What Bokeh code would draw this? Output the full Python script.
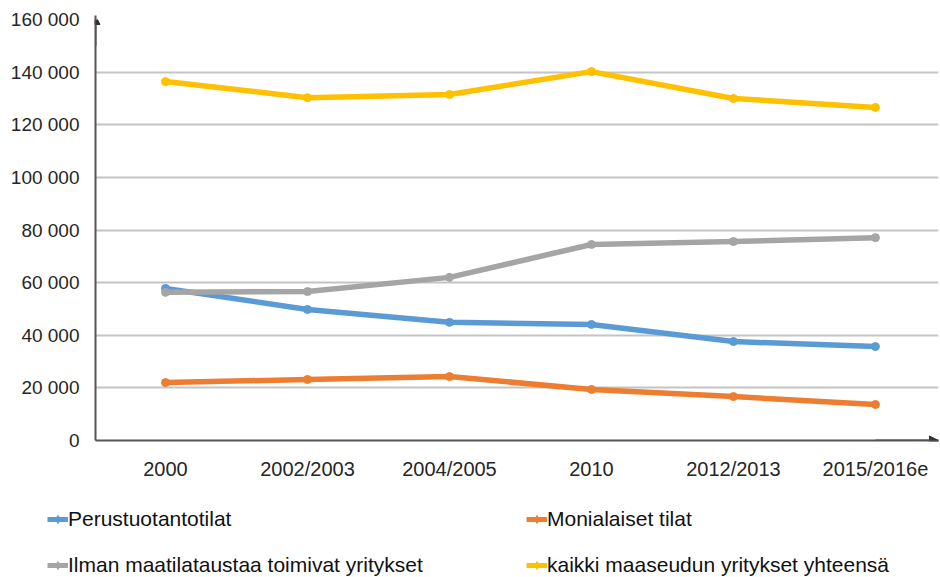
from bokeh.plotting import figure
from bokeh.layouts import column, row
from bokeh.models import (Range1d, FixedTicker, Legend, LegendItem, Arrow,
                          NormalHead)
from bokeh.embed import file_html
from bokeh.resources import INLINE

categories = ["2000", "2002/2003", "2004/2005", "2010", "2012/2013", "2015/2016e"]
perustuotanto = [57800, 49800, 44900, 44100, 37600, 35700]
monialaiset = [22000, 23200, 24300, 19400, 16700, 13700]
ilman_maatilataustaa = [56300, 56600, 62000, 74500, 75600, 77100]
kaikki = [136400, 130300, 131500, 140200, 130000, 126600]

y_ticks = [0, 20000, 40000, 60000, 80000, 100000, 120000, 140000, 160000]
y_tick_labels = ["0", "20 000", "40 000", "60 000", "80 000", "100 000",
                 "120 000", "140 000", "160 000"]

series = [
    ("Perustuotantotilat", perustuotanto, "#5B9BD5"),
    ("Monialaiset tilat", monialaiset, "#ED7D31"),
    ("Ilman maatilataustaa toimivat yritykset", ilman_maatilataustaa, "#A5A5A5"),
    ("kaikki maaseudun yritykset yhteensä", kaikki, "#FFC000"),
]

FONT = "Liberation Sans"
TXT = "#262626"

xs = list(range(len(categories)))

p = figure(width=940, height=500, output_backend="svg", toolbar_location=None,
           x_range=Range1d(-0.493, 5.444), y_range=Range1d(0, 160000),
           min_border_left=95, min_border_right=2, min_border_top=19,
           min_border_bottom=60)
p.outline_line_color = None

p.yaxis.ticker = FixedTicker(ticks=y_ticks)
p.yaxis.major_label_overrides = {t: l for t, l in zip(y_ticks, y_tick_labels)}
p.xaxis.ticker = FixedTicker(ticks=xs)
p.xaxis.major_label_overrides = {i: c for i, c in zip(xs, categories)}
for ax in (p.xaxis, p.yaxis):
    ax.major_tick_out = 0
    ax.major_tick_in = 0
    ax.minor_tick_out = 0
    ax.minor_tick_in = 0
    ax.axis_line_color = "#555555"
    ax.axis_line_width = 2
    ax.major_label_text_font = FONT
    ax.major_label_text_color = TXT
p.yaxis.major_label_text_font_size = "19px"
p.xaxis.major_label_text_font_size = "20px"
p.yaxis.major_label_standoff = 16
p.xaxis.major_label_standoff = 17

p.xgrid.grid_line_color = None
p.ygrid.ticker = FixedTicker(ticks=y_ticks)
p.ygrid.grid_line_color = "#C4C4C4"
p.ygrid.grid_line_width = 2

for name, vals, color in series:
    p.line(xs, vals, line_color=color, line_width=5.5, line_join="round",
           line_cap="round")
    p.scatter(xs, vals, size=8, fill_color=color, line_color=color)

# axis arrows
p.add_layout(Arrow(end=NormalHead(size=9, fill_color="#333333", line_color="#333333"),
                   x_start=-0.493, y_start=150000, x_end=-0.493, y_end=161500,
                   line_color="#555555", line_width=2))
p.add_layout(Arrow(end=NormalHead(size=9, fill_color="#333333", line_color="#333333"),
                   x_start=5.0, y_start=0, x_end=5.444, y_end=0,
                   line_color="#555555", line_width=2))

# legend panel (separate small figure without axes)
lg = figure(width=940, height=77, output_backend="svg", toolbar_location=None,
            x_range=Range1d(0, 1), y_range=Range1d(0, 1),
            x_axis_location=None, y_axis_location=None,
            min_border_left=0, min_border_right=0, min_border_top=0,
            min_border_bottom=0)
lg.grid.visible = False
lg.outline_line_color = None

nan = float("nan")
handles = []
for name, vals, color in series:
    ln = lg.line([nan, nan], [nan, nan], line_color=color, line_width=5)
    sc = lg.scatter([nan], [nan], size=6, marker="diamond", fill_color=color,
                    line_color=color)
    handles.append(LegendItem(label=name, renderers=[ln, sc]))

# legend fills column by column: order so rows read as in the reference
ordered = [handles[0], handles[2], handles[1], handles[3]]
legend = Legend(items=ordered, ncols=2, location=(47, 0),
                label_text_font=FONT, label_text_font_size="21px",
                label_text_color="#111111",
                glyph_width=21, glyph_height=20, label_height=20, label_width=436,
                label_standoff=0, spacing=22, padding=0, margin=0,
                border_line_color=None, background_fill_alpha=0)
lg.add_layout(legend)

layout = column(p, row(lg), spacing=0)
open("out.html", "w").write(file_html(layout, INLINE))
